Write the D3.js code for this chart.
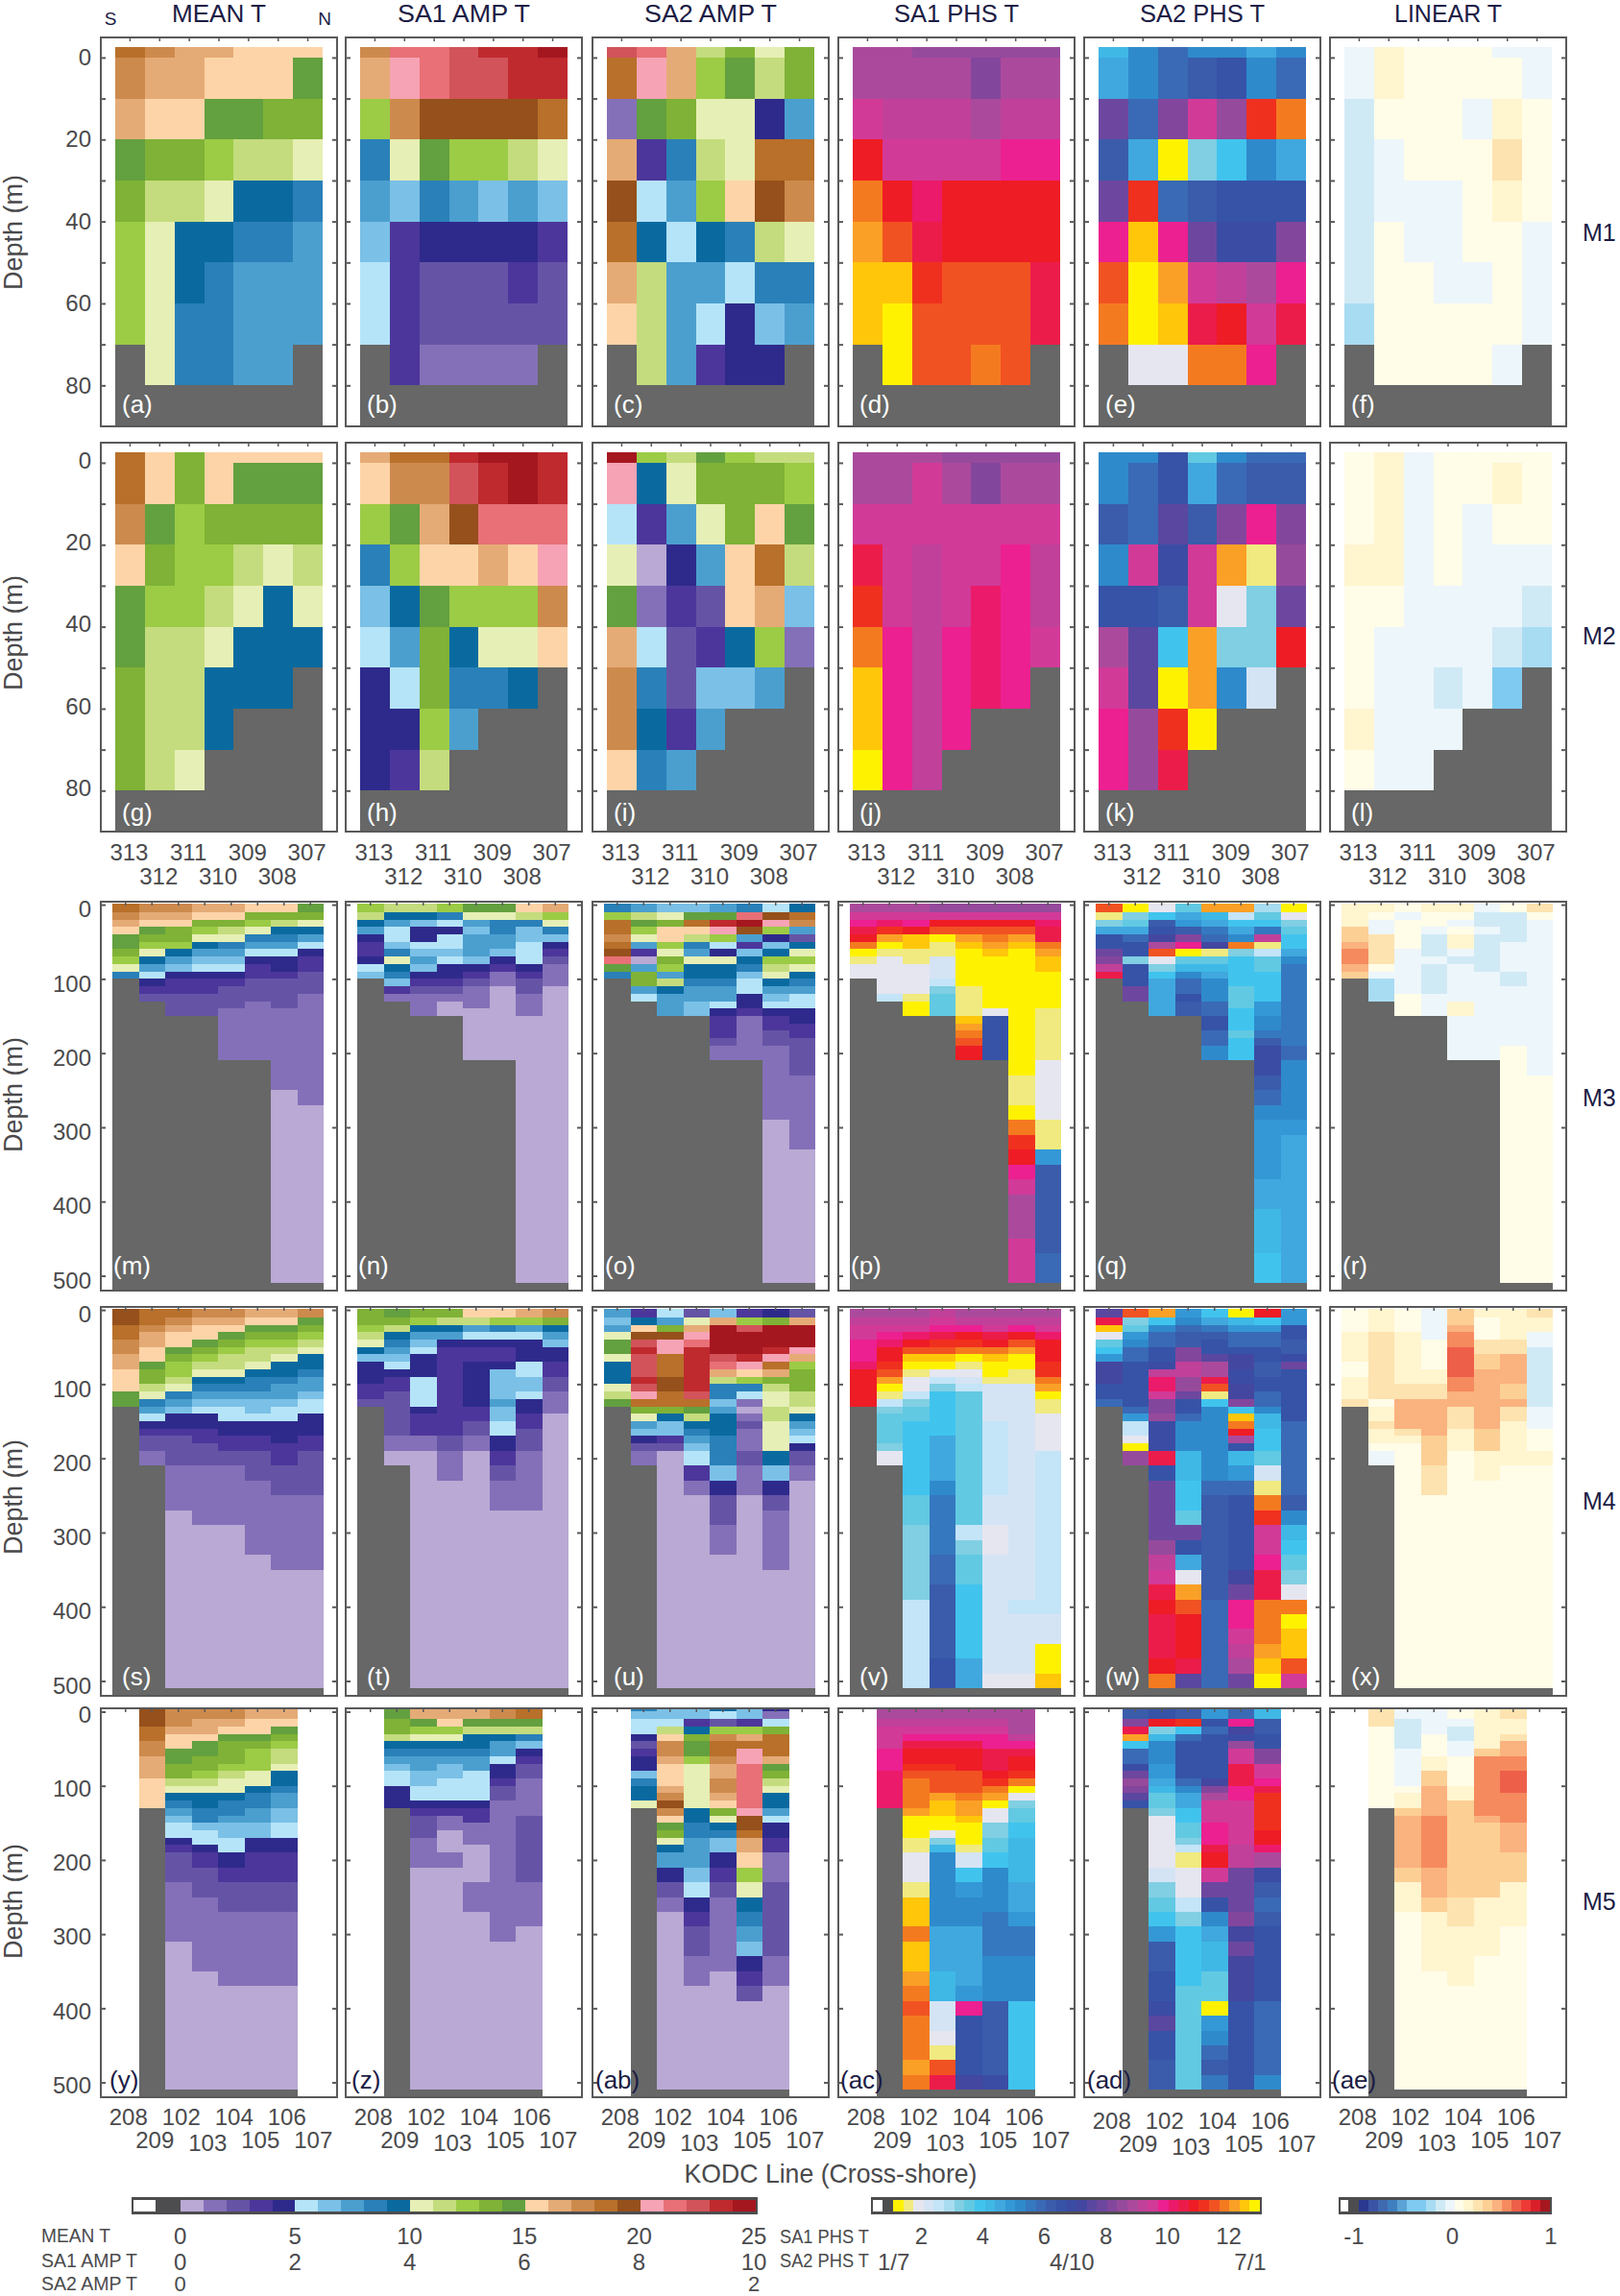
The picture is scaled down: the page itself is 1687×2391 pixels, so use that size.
<!DOCTYPE html>
<html>
<head>
<meta charset="utf-8">
<script src="https://d3js.org/d3.v7.min.js"></script>
<style>
body { margin:0; background:#fff; }
svg text { font-family:"Liberation Sans", Arial, sans-serif; }
</style>
</head>
<body>
<div id="chart"></div>
<script>
// station lines, M3 and M4 stations carry no labels in the figure
var stationsShelf = ["313","312","311","310","309","308","307"]
var stationsDeep = ["a1","a2","a3","a4","a5","a6","a7","a8"]
var stationsKodc = ["208","209","102","103","104","105","106","107"]

var columnTitles = ["MEAN T","SA1 AMP T","SA2 AMP T","SA1 PHS T","SA2 PHS T","LINEAR T"]
var rowTitles = ["M1","M2","M3","M4","M5"]
var panelLetters = ["a","b","c","d","e","f","g","h","i","j","k","l","m","n","o","p","q","r","s","t","u","v","w","x","y","z","ab","ac","ad","ae"]

var ticksShallow = [0,10,20,30,40,50,60,70,80]
var ticksDeep = [0,100,200,300,400,500]

// colorbar steps
var ampColors = ["#b9a9d4","#8470b8","#6554a6","#4c369b","#2e2a8c",
	"#b5e4f8","#7bc0e6","#4b9fcf","#2a80b8","#0a6aa0",
	"#e6efb5","#c4dc7e","#9ccb45","#7fb236","#63a03f",
	"#fdd4a8","#e5ab76","#cd8a4d","#b8702a","#95501c",
	"#f6a3b5","#e87076","#d2535a","#bf2a2e","#a5171f"]
var phsColors = ["#fff200","#f0ea80","#e6e6f0","#d5e4f4","#c4e4f7","#a8dcf0","#80cfe3","#62c9e2","#40c4ee",
	"#3fb8e6","#40a8de","#3498d6","#2f8acc","#3578bf","#3a6ab5","#3a5cab","#3653a8","#3b4ca4","#44479f",
	"#5a47a0","#6d479f","#83469d","#964a9c","#ab4a9c","#c0409a","#d23a98","#ec2090","#ec1a6a","#ec1c4a",
	"#ee1c25","#f0301f","#f15222","#f47a20","#fba026","#ffc60a","#fff200"]
var linColors = ["#2b3990","#3a53a4","#3f6ab0","#3f7fc0","#5ba3d6","#7fcaf0","#7fcaf0","#a8dcf2","#d0eaf5","#edf6fb",
	"#fffce8","#fff5cf","#fde3b0","#fccf95","#fab27f","#f58a5e","#ee5f4a","#ed3a36","#d9202a","#a6171f"]

// every column below: colorbar step, then the depth (m) that step reaches down to, repeated
// M1
var meanM1 = [[18,0,17,10,16,20,14,30,13,40,12,70],[17,0,16,10,15,20,13,30,11,40,10,80],[16,10,15,20,13,30,11,40,9,60,8,80],[16,0,15,10,14,20,12,30,10,40,9,50,8,80],[15,10,14,20,11,30,9,40,8,50,7,80],[15,10,13,20,11,30,9,40,8,50,7,80],[15,0,14,10,13,20,10,30,8,40,7,70]]
var sa1AmpM1 = [[17,0,16,10,12,20,8,30,7,40,6,50,5,70],[21,0,20,10,17,20,10,30,6,40,3,80],[21,10,19,20,14,30,8,40,4,50,2,70,1,80],[22,10,19,20,12,30,7,40,4,50,2,70,1,80],[23,0,22,10,19,20,12,30,6,40,4,50,2,70,1,80],[23,10,19,20,11,30,7,40,4,50,3,60,2,70,1,80],[24,0,23,10,18,20,10,30,6,40,3,50,2,70]]
var sa2AmpM1 = [[22,0,18,10,1,20,16,30,19,40,18,50,16,60,15,70],[21,0,20,10,14,20,3,30,5,40,9,50,11,80],[16,10,13,20,8,30,7,40,5,50,7,80],[11,0,12,10,10,20,11,30,12,40,9,50,7,60,5,70,3,80],[13,0,14,10,10,30,15,40,8,50,5,60,4,80],[10,0,11,10,4,20,18,30,19,40,11,50,8,60,6,70,4,80],[13,10,7,20,18,30,17,40,10,50,8,60,7,70]]
var sa1PhsM1 = [[23,10,25,20,29,30,32,40,33,50,34,70],[23,10,24,20,25,30,29,40,31,50,34,60,35,80],[22,0,23,10,24,20,25,30,27,40,28,50,30,60,31,80],[22,0,23,10,24,20,25,30,29,50,31,80],[22,0,21,10,23,20,25,30,29,50,31,70,32,80],[22,0,23,10,24,20,26,30,29,50,31,80],[22,0,23,10,24,20,26,30,29,50,28,70]]
var sa2PhsM1 = [[9,0,10,10,20,20,15,30,20,40,26,50,31,60,32,70],[12,10,14,20,10,30,30,40,34,50,35,70,2,80],[14,10,21,20,35,30,14,40,26,50,33,60,34,70,2,80],[12,0,15,10,25,20,6,30,15,40,20,50,25,60,28,70,32,80],[12,0,16,10,22,20,8,30,16,40,17,50,24,60,29,70,32,80],[10,0,12,10,30,20,12,30,16,40,17,50,23,60,25,70,26,80],[12,0,14,10,32,20,10,30,16,40,21,50,26,60,28,70]]
var linM1 = [[9,10,8,60,7,70],[11,10,10,20,9,40,10,80],[10,30,9,50,10,80],[10,30,9,60,10,80],[10,10,9,20,10,50,9,60,10,80],[9,0,10,10,11,20,12,30,11,40,10,70,9,80],[9,10,10,40,9,70]]
// M2
var meanM2 = [[18,10,17,20,15,30,14,50,13,80],[15,10,14,20,13,30,12,40,11,80],[13,10,12,40,11,70,10,80],[15,10,13,20,12,30,11,40,10,50,9,70],[15,0,14,10,13,20,11,30,10,40,9,60],[15,0,14,10,13,20,10,30,9,60],[15,0,14,10,13,20,11,30,10,40,9,50]]
var sa1AmpM2 = [[16,0,15,10,12,20,8,30,6,40,5,50,4,80],[18,0,17,10,14,20,12,30,9,40,7,50,5,60,4,70,3,80],[18,0,17,10,16,20,15,30,14,40,13,60,12,70,11,80],[23,0,22,10,19,20,15,30,12,40,9,50,8,60,7,70],[24,0,23,10,21,20,16,30,12,40,10,50,8,60],[24,10,21,20,15,30,12,40,10,50,9,60],[23,10,21,20,20,30,17,40,15,50]]
var sa2AmpM2 = [[24,0,20,10,5,20,10,30,14,40,16,50,17,70,15,80],[12,0,9,10,3,20,0,30,1,40,5,50,8,60,9,70,8,80],[11,0,10,10,7,20,4,30,3,40,2,60,3,70,7,80],[14,0,13,10,10,20,7,30,2,40,3,50,6,60,7,70],[12,0,13,20,15,40,9,50,6,60],[11,0,13,10,15,20,18,30,16,40,12,50,7,60],[11,0,12,10,14,20,11,30,6,40,1,50]]
var sa1PhsM2 = [[23,10,25,20,28,30,30,40,32,50,34,70,35,80],[23,10,25,40,26,80],[23,0,25,20,24,80],[22,0,23,10,25,40,26,70],[22,0,21,10,25,30,27,60],[22,0,23,10,25,20,26,60],[22,0,23,10,25,20,24,40,25,50]]
var sa2PhsM2 = [[12,10,15,20,12,30,16,40,23,50,25,60,26,80],[12,0,14,20,25,30,16,40,19,60,22,80],[16,10,19,20,17,30,15,40,8,50,35,60,30,70,28,80],[7,0,10,10,15,20,25,40,33,60,35,70],[12,0,14,10,21,20,33,30,2,40,6,50,12,60],[14,0,15,10,26,20,1,30,6,50,3,60],[14,0,15,10,21,20,22,30,20,40,29,50]]
var linM2 = [[10,20,11,30,10,60,11,70,10,80],[11,30,10,40,9,80],[9,80],[10,30,9,50,8,60,9,70],[10,10,9,60],[10,0,11,10,10,20,9,40,8,50,6,60],[10,20,9,30,8,40,7,50]]
// M3
var meanM3 = [[18,10,17,20,16,30,15,40,14,60,13,70,12,80,10,90,8,100],[17,10,16,20,15,30,14,40,13,50,12,60,10,70,9,80,7,90,5,100,4,110,3,120,2,130],[17,10,16,20,15,30,13,50,12,60,9,70,7,80,6,90,4,100,3,120,2,150],[16,10,15,20,13,30,12,40,10,50,9,60,7,70,6,80,5,90,4,100,3,120,2,150],[16,10,15,20,13,30,11,40,10,50,8,60,7,70,6,80,5,90,4,100,3,110,2,140,1,210],[15,10,13,20,12,30,10,40,8,50,7,60,5,70,4,80,3,100,2,130,1,210],[15,10,13,20,11,30,9,40,8,50,7,60,5,70,4,90,3,100,2,140,1,250,0,510],[14,10,13,20,10,30,9,40,7,50,5,60,4,70,3,90,2,120,1,270,0,510]]
var sa1AmpM3 = [[12,10,11,20,9,30,7,40,4,50,3,70,4,80,5,90,6,100],[11,10,9,20,7,30,5,50,6,60,8,70,10,80,9,90,8,100,6,110,3,120,1,130],[11,10,9,20,6,30,4,50,5,60,6,70,7,80,6,90,4,100,3,110,2,120,1,150],[12,10,8,20,5,30,4,40,5,60,6,70,5,80,4,100,3,110,2,120,1,130,0,150],[14,10,10,20,7,30,6,40,7,70,6,80,4,90,3,100,2,110,1,140,0,210],[14,10,10,20,8,40,7,60,6,70,4,80,3,90,1,110,0,210],[15,10,11,20,8,30,6,50,5,80,4,90,3,100,2,120,1,150,0,510],[16,10,12,20,10,30,8,40,6,50,4,60,3,70,2,80,1,110,0,510]]
var sa2AmpM3 = [[8,10,12,20,18,40,17,50,18,60,19,70,21,80,14,90,8,100],[7,10,11,20,14,30,12,40,10,50,7,60,3,70,0,80,7,90,13,110,7,120,5,130],[6,10,10,20,13,30,15,50,12,60,10,70,13,80,12,90,7,100,11,110,9,120,7,150],[6,10,14,20,18,30,15,40,11,50,8,60,7,70,10,80,9,100,8,110,7,130,6,150],[7,10,14,20,23,30,20,40,12,50,5,60,4,70,10,80,9,100,8,110,7,130,5,140,4,150,3,180,2,190,1,210],[8,10,21,20,24,30,19,40,7,50,3,60,6,70,9,80,8,90,6,100,5,120,4,140,3,150,1,210],[5,10,19,20,20,30,12,40,4,50,6,60,9,70,12,80,11,90,10,100,9,110,7,120,6,130,5,140,4,150,3,170,2,190,1,290,0,510],[9,10,18,20,17,30,7,40,2,50,9,60,10,70,12,80,10,90,9,100,8,110,7,120,5,140,4,160,3,180,2,230,1,330,0,510]]
var sa1PhsM3 = [[23,10,25,20,26,30,28,40,29,50,32,60,35,70,1,80,2,100],[23,10,25,20,27,30,30,40,33,50,35,60,1,70,2,120,4,130],[23,10,25,20,26,30,29,40,34,60,1,80,2,120,1,130,35,150],[22,10,25,20,29,30,31,40,35,50,1,70,3,100,4,110,6,120,7,150],[22,10,25,20,29,30,31,40,33,50,34,60,35,110,1,150,34,160,33,170,32,180,31,190,29,210],[22,10,25,20,29,30,31,40,32,50,33,60,34,70,35,140,2,150,16,210],[22,10,25,20,29,30,31,40,33,50,34,60,35,230,1,270,35,290,32,310,30,330,29,350,26,370,25,390,23,450,25,510],[22,10,25,20,27,30,28,50,32,60,33,70,34,90,35,140,1,210,2,290,1,330,11,350,15,470,14,510]]
var sa2PhsM3 = [[31,10,1,20,6,30,10,40,16,60,20,70,21,80,24,90,28,100],[35,10,6,20,7,30,10,40,14,50,16,70,6,80,16,110,20,130],[2,10,8,20,15,30,16,40,18,50,23,60,31,70,2,80,6,90,8,100,10,150],[7,10,10,20,11,30,15,40,21,50,26,60,35,70,7,80,9,90,12,100,14,120,16,130,15,150],[33,10,9,20,10,30,13,40,14,50,18,60,1,70,7,80,9,90,10,100,12,130,14,150,16,170,14,190,12,210],[33,10,4,20,8,30,10,40,12,50,32,60,6,70,8,110,7,140,8,170,7,180,8,210],[5,10,7,20,8,30,13,40,24,50,1,60,4,70,7,90,8,130,11,150,12,170,13,180,15,190,17,230,15,250,14,270,12,290,11,370,10,410,9,470,8,510],[35,10,2,20,6,30,7,40,8,60,10,70,12,80,13,190,14,210,12,290,11,310,10,510]]
var linM3 = [[11,30,13,50,14,60,15,80,14,90,13,100],[11,10,10,20,9,40,12,80,10,90,9,100,7,130],[10,10,9,20,10,60,9,120,10,150],[11,10,10,30,9,40,8,70,9,80,8,120,9,150],[11,10,10,20,9,30,10,40,11,60,9,70,8,80,9,130,11,150,9,210],[9,10,8,30,9,40,8,90,9,210],[10,10,8,50,9,90,8,110,9,190,10,510],[12,10,10,20,9,230,10,510]]
// M4
var meanM4 = [[19,20,18,40,17,60,16,80,15,110,14,130],[18,20,17,30,16,50,15,70,14,80,13,100,11,110,10,120,8,130,7,140,5,150,4,160,3,170,2,190,1,210],[18,10,17,20,16,30,15,50,14,60,13,70,12,90,11,100,10,110,8,120,7,130,6,140,4,160,3,170,2,210,1,270,0,510],[17,10,16,20,15,40,14,50,13,60,12,70,11,80,10,90,9,100,8,110,7,120,6,130,5,140,4,160,3,180,2,210,1,290,0,510],[17,10,16,20,15,30,14,40,13,50,12,60,11,80,10,90,9,100,8,110,7,120,6,130,5,150,4,170,3,190,2,210,1,290,0,510],[16,10,15,20,14,30,13,40,12,50,11,70,10,80,9,90,8,110,7,120,6,140,5,150,4,170,3,190,2,230,1,330,0,510],[16,10,15,20,14,30,13,40,12,50,11,60,10,70,9,90,8,100,7,120,6,130,5,150,4,180,3,210,2,250,1,350,0,510],[17,10,14,20,13,30,12,40,11,50,10,60,9,80,8,90,7,110,6,120,5,140,4,170,3,190,2,250,1,350,0,510]]
var sa1AmpM4 = [[13,20,12,30,11,40,10,50,9,60,6,70,4,100,3,120,2,130],[14,10,13,20,11,30,9,40,8,50,7,60,6,70,5,80,4,90,3,110,2,170,1,190,0,210],[13,10,12,20,9,30,7,40,6,50,5,60,4,90,5,130,4,140,3,170,1,190,0,510],[13,10,11,20,9,30,7,40,4,50,3,170,2,190,1,230,0,510],[15,10,11,20,7,30,5,40,4,50,3,70,4,130,3,150,2,170,1,190,0,510],[15,10,12,20,8,30,5,40,4,50,3,70,4,80,6,120,7,130,6,150,5,170,4,190,3,210,2,230,1,270,0,510],[16,10,12,20,7,30,5,40,4,70,5,90,6,110,5,120,4,140,3,160,2,190,1,270,0,510],[17,10,13,20,9,30,7,40,6,50,4,70,3,90,2,110,1,140,0,510]]
var sa2AmpM4 = [[7,10,6,20,7,30,10,40,14,60,10,70,9,100,10,110,11,120,14,130],[3,10,9,20,15,30,19,40,22,50,23,60,22,90,23,100,22,110,20,120,18,130,13,140,10,150,7,160,6,170,4,180,2,190,1,210],[5,10,7,20,13,30,19,40,20,60,18,90,19,110,18,130,13,140,9,150,6,170,3,180,2,190,0,510],[2,10,10,20,16,30,20,40,21,50,23,110,22,120,18,130,14,140,11,150,9,160,8,170,7,180,6,190,5,210,3,230,1,250,0,510],[6,10,16,20,24,60,22,70,21,80,16,90,11,100,8,120,6,130,7,140,9,170,8,210,6,230,4,250,2,290,1,330,0,510],[3,10,12,20,22,30,24,60,23,70,20,80,15,90,12,100,8,110,5,120,1,130,0,140,1,150,2,160,1,190,2,210,1,250,0,510],[4,10,13,20,24,50,23,60,20,70,18,80,16,90,13,100,11,110,10,130,11,150,10,190,9,210,6,230,4,250,2,270,1,350,0,510],[2,10,16,20,24,50,20,60,16,70,12,80,13,110,11,130,10,140,9,150,7,160,6,170,5,180,4,190,2,210,1,230,0,510]]
var sa1PhsM4 = [[23,10,24,20,25,40,26,70,27,80,29,130],[23,10,24,20,25,30,26,40,27,50,29,70,30,80,31,90,33,100,35,110,1,120,4,130,6,140,7,180,6,190,2,210],[23,10,24,20,25,30,27,40,29,50,31,60,34,70,35,80,1,90,2,110,4,120,6,130,7,150,8,250,7,290,6,390,4,510],[24,10,25,20,26,30,28,40,30,50,31,60,34,70,35,80,2,90,4,100,6,110,8,170,10,230,12,250,13,330,14,370,15,470,16,510],[23,10,24,20,26,30,29,40,30,50,32,60,35,70,1,80,2,90,3,100,4,110,7,290,4,310,6,330,7,370,8,470,10,510],[23,10,24,20,25,30,28,40,29,50,32,60,34,70,35,90,1,100,3,150,4,250,3,290,2,330,3,490,2,510],[23,10,24,20,26,30,29,40,31,50,33,60,35,80,1,100,3,390,4,410,3,490,2,510],[23,10,24,20,25,30,27,40,29,70,30,90,32,100,33,110,35,120,1,140,2,190,4,410,3,450,35,490,34,510]]
var sa2PhsM4 = [[19,10,28,20,34,30,2,40,7,50,8,60,11,70,18,100,16,120,14,130],[31,10,6,20,7,30,11,40,12,50,14,70,16,130,14,140,11,150,4,170,2,180,35,190,22,210],[33,10,8,20,12,30,14,50,16,70,17,80,24,90,27,110,25,120,21,140,22,150,17,190,28,210,16,230,20,310,22,330,24,350,25,370,28,390,29,410,28,470,29,490,32,510],[11,10,12,20,14,30,15,50,21,70,24,90,22,110,20,120,16,140,14,150,12,190,9,230,8,270,7,290,20,310,16,330,10,350,2,370,33,390,31,410,29,470,28,490,19,510],[8,10,10,20,13,30,15,40,16,60,19,70,23,90,28,100,31,110,1,120,8,130,12,230,14,250,15,390,14,510],[35,10,9,20,11,30,14,50,16,60,18,80,17,100,18,120,21,130,8,140,34,150,32,160,29,170,23,180,16,190,9,210,11,230,14,250,16,350,18,370,20,390,26,430,25,450,24,470,23,490,20,510],[29,10,8,20,11,30,14,50,16,70,15,90,16,110,14,130,12,140,9,160,8,190,7,210,3,230,1,250,32,270,30,290,25,330,26,350,28,390,32,450,33,470,34,490,35,510],[11,20,16,40,15,60,17,70,20,80,16,150,14,250,15,270,12,290,9,310,8,330,7,350,6,370,2,390,32,410,35,430,34,470,31,490,25,510]]
var linM4 = [[10,30,11,70,10,90,11,120,12,130],[11,30,12,120,10,130,11,150,12,160,11,180,10,190,9,210],[10,30,11,100,12,120,14,160,12,170,11,180,10,510],[9,40,10,80,11,100,12,120,14,170,13,210,12,250,10,510],[13,20,14,30,15,50,16,90,15,110,14,130,12,160,11,190,10,510],[11,10,10,40,12,60,13,80,14,160,13,190,11,230,10,510],[11,40,12,60,14,100,13,120,14,130,12,150,11,210,10,510],[12,10,11,30,9,50,8,130,9,160,10,190,11,210,10,510]]
// M5, first and last line have no data
var meanM5 = [null,[19,20,18,40,17,60,16,90,15,130],[17,20,16,30,15,50,14,70,13,90,11,100,10,110,9,120,8,130,7,140,6,150,5,170,4,180,3,190,2,230,1,310,0,510],[17,10,16,30,15,40,14,60,13,80,12,90,11,100,10,110,9,130,8,150,6,160,5,180,4,190,3,210,2,250,1,350,0,510],[17,10,16,20,15,30,14,40,13,70,12,80,11,90,10,110,9,120,8,140,7,150,6,170,5,190,4,210,3,230,2,270,1,370,0,510],[16,10,15,30,14,40,13,50,12,80,10,100,9,110,8,130,7,150,6,170,4,190,3,230,2,270,1,370,0,510],[16,10,15,20,14,30,13,40,12,50,11,70,10,80,9,100,8,110,7,130,6,150,5,170,4,190,3,230,2,270,1,370,0,510],null]
var sa1AmpM5 = [null,[14,10,13,30,11,40,9,50,8,60,7,70,6,80,5,100,4,130],[16,10,14,20,12,30,10,40,9,50,8,60,7,80,6,100,5,120,4,130,3,140,2,170,1,210,0,510],[16,10,15,20,12,30,10,40,9,50,8,60,7,70,6,90,5,120,4,130,3,140,1,160,0,190,1,210,0,510],[16,10,14,20,11,30,9,50,8,60,7,80,5,120,4,130,3,150,1,180,0,230,1,270,0,510],[17,10,14,20,11,30,9,40,7,60,5,70,4,90,3,100,2,120,1,310,0,510],[18,10,14,20,11,30,8,40,6,50,4,60,3,70,2,90,1,140,2,230,1,290,0,510],null]
var sa2AmpM5 = [null,[8,0,6,10,5,30,4,40,2,50,3,60,4,80,6,90,8,100,9,120,10,130],[6,10,5,20,11,30,15,40,17,60,16,70,15,100,16,110,17,120,19,130,17,140,15,150,14,160,13,170,10,180,9,190,7,210,4,230,2,250,1,270,0,510],[6,10,3,20,9,30,13,40,14,60,12,70,10,130,9,150,8,170,7,210,6,230,5,250,4,270,3,290,2,330,1,370,0,510],[9,0,5,10,2,20,12,30,17,40,18,60,17,70,16,90,17,110,16,120,15,130,13,140,10,150,9,160,8,170,6,190,4,210,3,230,2,250,1,350,0,510],[6,10,3,20,12,30,16,40,18,50,20,70,21,130,20,140,19,160,18,170,16,190,15,210,12,230,10,250,9,270,8,290,7,310,6,330,4,350,3,370,2,390,0,510],[4,0,1,10,5,20,13,30,18,60,16,70,14,80,13,90,11,100,10,110,9,130,7,140,5,150,4,170,3,190,1,230,2,330,1,370,0,510],null]
var sa1PhsM5 = [null,[23,10,24,20,25,50,26,80,27,130],[23,10,24,20,25,30,26,40,28,50,29,70,30,80,31,90,32,130,33,140,35,170,1,190,2,230,1,250,34,290,32,310,34,350,33,370,32,390,31,410,32,470,33,490,32,510],[23,10,24,20,25,30,26,40,28,50,29,70,30,80,31,110,33,120,34,140,35,160,2,170,6,180,9,190,12,290,10,350,9,390,3,430,2,450,1,470,31,490,28,510],[23,10,24,20,25,30,26,40,28,50,29,80,31,110,32,120,33,140,34,150,35,180,1,190,3,210,8,230,11,250,12,290,10,370,11,390,26,410,16,490,18,510],[23,10,24,20,25,30,26,50,28,80,29,90,30,100,32,110,33,120,35,130,2,150,6,170,7,190,8,210,12,270,13,330,12,390,15,490,17,510],[23,30,24,40,26,50,28,60,29,80,30,90,32,100,35,110,2,120,6,130,7,150,8,170,9,230,10,270,11,290,13,330,12,390,8,510],null]
var sa2PhsM5 = [null,[15,10,21,20,28,30,33,40,8,50,14,70,17,80,20,90,22,100,21,110,19,120,16,130],[16,10,29,20,6,30,9,40,12,70,11,90,10,100,9,110,7,130,6,140,2,210,3,230,6,250,7,270,8,290,11,310,15,350,16,390,17,410,19,430,16,470,15,510],[15,10,30,20,8,30,14,40,16,90,14,100,12,110,10,130,8,150,7,170,6,180,4,190,1,210,2,250,4,270,6,290,8,370,7,510],[11,10,16,20,14,30,16,90,18,100,21,110,23,120,25,150,26,180,28,190,29,210,25,230,20,250,16,270,12,290,10,310,9,350,7,390,35,410,11,430,12,450,14,470,15,490,13,510],[14,10,26,20,18,30,17,40,22,50,25,70,28,100,26,120,25,180,24,210,20,270,21,290,18,310,20,330,18,390,16,510],[9,10,15,30,16,50,21,70,25,90,26,100,28,110,30,160,29,180,27,190,23,210,17,230,15,250,14,270,15,290,16,390,14,490,12,510],null]
var linM5 = [null,[12,20,10,130],[9,10,8,50,9,100,10,110,11,130,13,140,14,210,13,230,11,270,10,510],[9,30,10,60,11,80,13,100,14,140,15,210,14,250,13,270,11,350,10,510],[10,10,9,20,8,40,9,60,10,100,11,120,13,250,12,290,11,370,10,510],[11,50,13,60,15,140,14,150,13,250,11,330,10,510],[12,10,11,30,12,40,14,60,15,80,16,110,15,150,14,190,13,230,11,290,10,510],null]

var grid = [
	[meanM1,sa1AmpM1,sa2AmpM1,sa1PhsM1,sa2PhsM1,linM1],
	[meanM2,sa1AmpM2,sa2AmpM2,sa1PhsM2,sa2PhsM2,linM2],
	[meanM3,sa1AmpM3,sa2AmpM3,sa1PhsM3,sa2PhsM3,linM3],
	[meanM4,sa1AmpM4,sa2AmpM4,sa1PhsM4,sa2PhsM4,linM4],
	[meanM5,sa1AmpM5,sa2AmpM5,sa1PhsM5,sa2PhsM5,linM5]
]

// colorbar labels
var meanTicks = [0,5,10,15,20,25]
var sa1AmpTicks = [0,2,4,6,8,10]
var sa2AmpTicks = [0,2]
var phsTicks = [2,4,6,8,10,12]
var sa2PhsNames = ["1/7","4/10","7/1"]
var sa2PhsAt = [1.1,6.9,12.7]
var linTicks = [-1,0,1]

var ink = "#4a4a4c", navy = "#1c1c45", frameColor = "#58595b", land = "#666766"

var ampColor = d3.scaleQuantize().domain([0,25]).range(ampColors)
var phsColor = d3.scaleQuantize().domain([0,36]).range(phsColors)
var linColor = d3.scaleQuantize().domain([0,20]).range(linColors)
var colorFor = [ampColor,ampColor,ampColor,phsColor,phsColor,linColor]

var svg = d3.select("#chart").append("svg")
	.attr("width",1687)
	.attr("height",2391)

var frameLeft = [105,360,617,873,1129,1385]
var frameTop = [39,461,939,1361,1779]
var frameW = 246, frameH = 405

var rowSetup = [
	{dom:[-4.9,90],top:-2.5,ticks:ticksShallow,st:stationsShelf,padL:15,padR:15,labelDy:0},
	{dom:[-4.9,90],top:-2.5,ticks:ticksShallow,st:stationsShelf,padL:15,padR:15,labelDy:-2.5},
	{dom:[-4,520],top:-1.7,ticks:ticksDeep,st:stationsDeep,padL:12,padR:14,labelDy:5},
	{dom:[-4,520],top:-1.7,ticks:ticksDeep,st:stationsDeep,padL:12,padR:14,labelDy:5},
	{dom:[-4.5,520],top:-3,ticks:ticksDeep,st:stationsKodc,padL:12,padR:14,labelDy:3}
]

function runsOf(col, top) {
	var out = [], from = top
	for (var k = 0; k < col.length; k += 2) {
		out.push({step:col[k],from:from,to:col[k+1]})
		from = col[k+1]
	}
	return out
}

grid.forEach(function(row,r) {
	var setup = rowSetup[r]
	row.forEach(function(panel,c) {
		var left = frameLeft[c], top = frameTop[r]
		var g = svg.append("g").attr("transform","translate("+left+","+top+")")
		var x = d3.scaleBand().domain(setup.st).range([setup.padL,frameW-setup.padR])
		var y = d3.scaleLinear().domain(setup.dom).range([0,frameH])
		var color = colorFor[c]

		// land first, so it never shows through the seams of the cells
		panel.forEach(function(col,i) {
			if (col == null) return
			g.append("rect")
				.attr("x",x(setup.st[i]))
				.attr("y",y(setup.top))
				.attr("width",x.bandwidth())
				.attr("height",frameH-y(setup.top))
				.attr("fill",land)
				.attr("shape-rendering","crispEdges")
		})
		panel.forEach(function(col,i) {
			if (col == null) return
			var st = setup.st[i]
			g.selectAll(null)
				.data(runsOf(col,setup.top))
				.enter().append("rect")
				.attr("x",x(st))
				.attr("y",function(d){ return y(d.from) })
				.attr("width",x.bandwidth())
				.attr("height",function(d){ return y(d.to)-y(d.from) })
				.attr("fill",function(d){ return color(d.step+0.5) })
				.attr("shape-rendering","crispEdges")
		})

		// frame and ticks
		g.append("rect")
			.attr("width",frameW)
			.attr("height",frameH)
			.attr("fill","none")
			.attr("stroke",frameColor)
			.attr("stroke-width",2)

		var topAxis = d3.axisTop(x).tickSize(-4).tickFormat("")
		var ya = g.append("g").call(topAxis)
		ya.select(".domain").remove()
		ya.selectAll("line").attr("stroke",frameColor).attr("stroke-width",1.5)

		var rightAxis = d3.axisRight(y).tickValues(setup.ticks).tickSize(-5).tickFormat("")
		var ra = g.append("g").attr("transform","translate("+frameW+",0)").call(rightAxis)
		ra.select(".domain").remove()
		ra.selectAll("line").attr("stroke",frameColor).attr("stroke-width",2)

		var leftAxis = d3.axisLeft(y).tickValues(setup.ticks).tickSize(-5).tickPadding(10)
			.tickFormat(function(d){
				if (c > 0) return ""
				if (r < 2 && d%20 != 0) return ""
				return d
			})
		var la = g.append("g").call(leftAxis)
		la.select(".domain").remove()
		la.selectAll("line").attr("stroke",frameColor).attr("stroke-width",2)
		la.selectAll("text").attr("fill",ink).attr("y",setup.labelDy).style("font-size","24px").style("font-family","'Liberation Sans'")

		// panel letter
		var letterX = [22,22,13,22,13][r], letterY = [391,394,388,394,396][r]
		if (r == 4) letterX = [9,6,3,2,3,2][c]
		g.append("text")
			.attr("x",letterX)
			.attr("y",letterY)
			.attr("fill",r == 4 ? navy : "#fff")
			.style("font-size","26px")
			.text("("+panelLetters[r*6+c]+")")
	})
})

// column titles
columnTitles.forEach(function(t,c) {
	svg.append("text")
		.attr("x",frameLeft[c]+frameW/2)
		.attr("y",23)
		.attr("text-anchor","middle")
		.attr("fill",navy)
		.style("font-size","25px")
		.attr("textLength",[98,138,138,130,130,112][c])
		.attr("lengthAdjust","spacingAndGlyphs")
		.text(t)
})

svg.append("text").attr("x",115).attr("y",26).attr("text-anchor","middle").attr("fill",navy).style("font-size","19px").text("S")
svg.append("text").attr("x",338).attr("y",26).attr("text-anchor","middle").attr("fill",navy).style("font-size","19px").text("N")

// row names and depth titles
var rowNameY = [242,662,1143,1563,1980]
var depthY = [242,659,1140,1559,1980]
rowTitles.forEach(function(t,r) {
	svg.append("text")
		.attr("x",1648)
		.attr("y",rowNameY[r]+9)
		.attr("fill",navy)
		.style("font-size","25px")
		.text(t)
	svg.append("text")
		.attr("transform","translate(23,"+depthY[r]+") rotate(-90)")
		.attr("text-anchor","middle")
		.attr("fill",ink)
		.style("font-size","27px")
		.text("Depth (m)")
})

// station labels under M2 and M5
function stationLabels(list,yTop,yLow,padL,padR,r) {
	frameLeft.forEach(function(left,c) {
		var x = d3.scaleBand().domain(list).range([left+padL,left+frameW-padR])
		var shift = (r == 4 && c == 4) ? 4 : 0
		svg.selectAll(null)
			.data(list)
			.enter().append("text")
			.attr("x",function(d){ return x(d)+x.bandwidth()/2+(r == 4 ? 3 : -1) })
			.attr("y",function(d,i){
				var base = i%2 == 0 ? yTop : yLow
				if (d == "103") base += 3
				return base+shift
			})
			.attr("text-anchor","middle")
			.attr("fill",ink)
			.style("font-size","24px")
			.text(function(d){ return d })
	})
}
stationLabels(stationsShelf,896,921,15,15,1)
stationLabels(stationsKodc,2213,2237,12,14,4)

svg.append("text")
	.attr("x",865)
	.attr("y",2273)
	.attr("text-anchor","middle")
	.attr("fill",ink)
	.style("font-size","28px")
	.attr("textLength",305)
	.attr("lengthAdjust","spacingAndGlyphs")
	.text("KODC Line (Cross-shore)")

// colorbars
function colorbar(x0,x1,n,colors,blankX,landX) {
	var bx = d3.scaleLinear().domain([0,n]).range([x0,x1])
	svg.append("rect")
		.attr("x",blankX-2)
		.attr("y",2288)
		.attr("width",x1-blankX+4)
		.attr("height",18)
		.attr("fill","#4d4d4f")
	svg.append("rect")
		.attr("x",blankX)
		.attr("y",2291)
		.attr("width",landX-blankX-1)
		.attr("height",12)
		.attr("fill","#fff")
	svg.selectAll(null)
		.data(d3.range(n))
		.enter().append("rect")
		.attr("x",function(d){ return bx(d) })
		.attr("y",2291)
		.attr("width",function(d){ return bx(d+1)-bx(d) })
		.attr("height",12)
		.attr("fill",function(d){ return colors[d] })
		.attr("shape-rendering","crispEdges")
}
colorbar(187.6,787,25,ampColors,139,163)
colorbar(930,1312,36,phsColors,909,920)
colorbar(1415,1614,20,linColors,1396,1405)

function barText(list,scale,y,names,size) {
	svg.selectAll(null)
		.data(list)
		.enter().append("text")
		.attr("x",function(d){ return scale(d) })
		.attr("y",y)
		.attr("text-anchor","middle")
		.attr("fill",ink)
		.style("font-size",(size || 24)+"px")
		.text(function(d,i){ return names ? names[i] : d })
}
function barName(t,x,y,len) {
	svg.append("text")
		.attr("x",x)
		.attr("y",y)
		.attr("fill",ink)
		.style("font-size","20px")
		.attr("textLength",len)
		.attr("lengthAdjust","spacingAndGlyphs")
		.text(t)
}

var meanX = d3.scaleLinear().domain([0,25]).range([187.6,785])
var sa1X = d3.scaleLinear().domain([0,10]).range([187.6,785])
var sa2X = d3.scaleLinear().domain([0,2]).range([187.6,785])
var phsX = d3.scaleLinear().domain([1,13]).range([927.5,1311.6])
var linX = d3.scaleLinear().domain([-1,1]).range([1410,1615])

barText(meanTicks,meanX,2337)
barText(sa1AmpTicks,sa1X,2364)
barText(sa2AmpTicks,sa2X,2386,null,22)
barText(phsTicks,phsX,2337)
barText(sa2PhsAt,phsX,2364,sa2PhsNames)
barText(linTicks,linX,2337)

barName("MEAN T",43,2335,72)
barName("SA1 AMP T",43,2361,100)
barName("SA2 AMP T",43,2385,100)
barName("SA1 PHS T",812,2336,93)
barName("SA2 PHS T",812,2361,93)
</script>
</body>
</html>
